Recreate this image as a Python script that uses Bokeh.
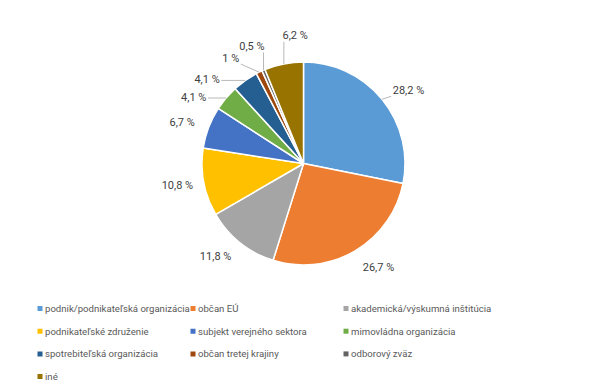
import math
from bokeh.plotting import figure
from bokeh.models import Range1d, ColumnDataSource
from bokeh.core.properties import value
from bokeh.embed import file_html
from bokeh.resources import INLINE

# ---------------- data ----------------
categories = ["podnik/podnikateľská organizácia", "občan EÚ", "akademická/výskumná inštitúcia",
              "podnikateľské združenie", "subjekt verejného sektora", "mimovládna organizácia",
              "spotrebiteľská organizácia", "občan tretej krajiny", "odborový zväz", "iné"]
values = [28.2, 26.7, 11.8, 10.8, 6.7, 4.1, 4.1, 1.0, 0.5, 6.2]
colors = ["#5B9BD5", "#ED7D31", "#A5A5A5", "#FFC000", "#4472C4", "#70AD47",
          "#255E91", "#9E480E", "#636363", "#997300"]

# ---------------- layout / style ----------------
W, H = 589, 384
CX, CY, R = 303, 229, 101.5          # pie centre and radius (data units = px)
label_shift_deg = [-4.4, 5.3, -4.7, -0.8, 2.2, 9.2, 13.8, 8.7, 0.6, -7.4]
label_radius = 128
leader = [True, False, False, False, False, True, True, True, True, True]
LABEL_FONT = "Roboto"
LEGEND_FONT = "Roboto"
char_w = {"%": 8.1, ",": 2.2, " ": 2.7}

labels = [("%g" % v).replace(".", ",") + " %" for v in values]

total = sum(values)
starts, ends, mids = [], [], []
acc = 0.0
for v in values:
    a0 = acc / total * 360.0
    acc += v
    a1 = acc / total * 360.0
    starts.append(math.radians(90 - a0))
    ends.append(math.radians(90 - a1))
    mids.append(90 - (a0 + a1) / 2)

p = figure(width=W, height=H, x_range=Range1d(0, W), y_range=Range1d(392 - H, 392),
           output_backend="svg", toolbar_location=None, x_axis_type=None, y_axis_type=None,
           min_border=0)
p.grid.visible = False
p.outline_line_color = None
p.background_fill_color = "white"

src = ColumnDataSource(dict(start=starts, end=ends, color=colors, cat=categories))
p.wedge(x=CX, y=CY, radius=R, start_angle="start", end_angle="end", direction="clock",
        fill_color="color", line_color="white", line_width=1.5, source=src)

# data labels + leader lines
lx, ly, x0s, y0s, x1s, y1s = [], [], [], [], [], []
for i, lab in enumerate(labels):
    ang = math.radians(mids[i] + label_shift_deg[i])
    tx = CX + label_radius * math.cos(ang)
    ty = CY + label_radius * math.sin(ang)
    lx.append(tx)
    ly.append(ty)
    if leader[i]:
        ma = math.radians(mids[i])
        ex = CX + R * math.cos(ma)
        ey = CY + R * math.sin(ma)
        w = sum(char_w.get(c, 6.2) for c in lab)
        bx = min(max(ex, tx - w / 2 - 1.5), tx + w / 2 + 1.5)
        by = min(max(ey, ty - 6), ty + 6)
        x0s.append(ex); y0s.append(ey); x1s.append(bx); y1s.append(by)

p.segment(x0=x0s, y0=y0s, x1=x1s, y1=y1s, line_color="#A6A6A6", line_width=0.8)
p.text(x=lx, y=ly, text=labels, text_align="center", text_baseline="middle",
       text_font=value(LABEL_FONT), text_font_size="11px", text_color="#404040")

# legend (3 columns)
leg_sx, leg_sy, leg_tx = [], [], []
for i in range(len(categories)):
    col, row = i % 3, i // 3
    sx = 39.5 + col * 153
    sy = 392 - (308 + row * 22.7)
    leg_sx.append(sx); leg_sy.append(sy); leg_tx.append(sx + 5)
p.scatter(x=leg_sx, y=leg_sy, marker="square", size=5, fill_color=colors, line_color=None)
p.text(x=leg_tx, y=leg_sy, text=categories, text_align="left", text_baseline="middle",
       text_font=value(LEGEND_FONT), text_font_size="9.6px", text_color="#595959")

open("out.html", "w").write(file_html(p, INLINE))
